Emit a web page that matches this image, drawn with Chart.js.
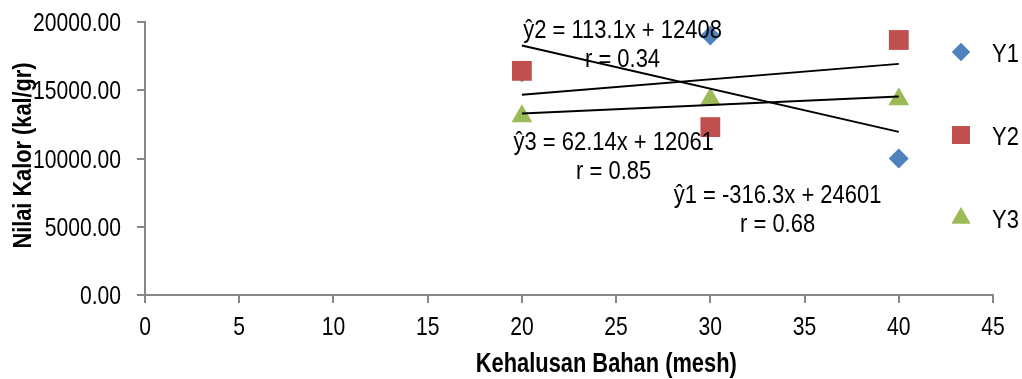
<!DOCTYPE html>
<html>
<head>
<meta charset="utf-8">
<title>Nilai Kalor vs Kehalusan Bahan</title>
<script src="https://cdn.jsdelivr.net/npm/chart.js@4"></script>
<style>
  html, body { margin: 0; padding: 0; background: #ffffff; }
  #wrap { width: 1022px; height: 379px; position: relative; }
</style>
</head>
<body>
<div id="wrap"><canvas id="chart"></canvas></div>
<script>
// Mesh sizes tested
const mesh = [20, 30, 40];

// Calorific value (kal/gr) per series
const y1Values = [16326, 19010, 10000];
const y2Values = [16420, 12301, 18682];
const y3Values = [13100, 14333, 14343];

const seriesNames = ['Y1', 'Y2', 'Y3'];
const seriesColors = ['#4F81BD', '#C0504D', '#9BBB59'];
const seriesShapes = ['rectRot', 'rect', 'triangle'];
const seriesRadius = [10, 14, 12];

// Linear trend coefficients (slope, intercept) and correlation for each series
const trendSlopes = [-316.3, 113.1, 62.14];
const trendIntercepts = [24601, 12408, 12061];
const trendR = ['0.68', '0.34', '0.85'];
const trendRange = [20, 40];

// Axis ticks
const xTicks = { min: 0, max: 45, step: 5 };
const yTicks = { min: 0, max: 20000, step: 5000 };

const xTitle = 'Kehalusan Bahan (mesh)';
const yTitle = 'Nilai Kalor (kal/gr)';

// Where each equation label sits, in data units (centre x, baseline y of the first line)
const labelAnchors = [
  { x: 33.57, y: 6740 },
  { x: 25.34, y: 18828 },
  { x: 24.87, y: 10623 }
];

const FONT = "'Liberation Sans', Arial, sans-serif";
const NARROW = 0.845;   // horizontal squeeze giving a narrow typeface look

// Draw a line of text squeezed along its own direction
function narrowText(ctx, text, x, y, opts) {
  ctx.save();
  ctx.translate(x, y);
  if (opts.rotate) ctx.rotate(opts.rotate);
  ctx.scale(opts.squeeze || NARROW, 1);
  ctx.font = (opts.bold ? 'bold ' : '') + opts.size + 'px ' + FONT;
  ctx.fillStyle = opts.color || '#000000';
  ctx.textAlign = opts.align || 'left';
  ctx.textBaseline = 'alphabetic';
  ctx.fillText(text, 0, 0);
  ctx.restore();
}

const values = [y1Values, y2Values, y3Values];

const pointSets = values.map((vals, i) => ({
  type: 'scatter',
  label: seriesNames[i],
  data: mesh.map((m, k) => ({ x: m, y: vals[k] })),
  pointStyle: seriesShapes[i],
  pointRadius: seriesRadius[i],
  pointHoverRadius: seriesRadius[i],
  backgroundColor: seriesColors[i],
  borderColor: seriesColors[i],
  borderWidth: 0,
  order: 3 - i + 1
}));

const trendSets = trendSlopes.map((a, i) => ({
  type: 'line',
  label: 'trend ' + seriesNames[i],
  data: trendRange.map(x => ({ x: x, y: a * x + trendIntercepts[i] })),
  borderColor: '#000000',
  borderWidth: 2,
  pointRadius: 0,
  fill: false,
  tension: 0,
  order: 0
}));

function fmtEq(i) {
  return 'ŷ' + (i + 1) + ' = ' + trendSlopes[i] + 'x + ' + trendIntercepts[i];
}

// Tick labels and axis titles in the narrow face
const axisTextPlugin = {
  id: 'axisText',
  afterDraw(chart) {
    const { ctx, scales, chartArea } = chart;
    const xs = scales.x, ys = scales.y;
    xs.ticks.forEach(t => {
      narrowText(ctx, String(t.value), xs.getPixelForValue(t.value), chartArea.bottom + 40,
        { size: 25, align: 'center' });
    });
    ys.ticks.forEach(t => {
      narrowText(ctx, Number(t.value).toFixed(2), chartArea.left - 24, ys.getPixelForValue(t.value) + 9,
        { size: 25, align: 'right' });
    });
    narrowText(ctx, xTitle, chartArea.left + (chartArea.right - chartArea.left) * 0.544, chartArea.bottom + 77,
      { size: 28, bold: true, align: 'center', squeeze: 0.78 });
    narrowText(ctx, yTitle, 31, (chartArea.top + chartArea.bottom) / 2 - 3,
      { size: 25, bold: true, align: 'center', rotate: -Math.PI / 2, squeeze: 0.87 });
  }
};

// Equation and r labels for each trend line
const equationPlugin = {
  id: 'equations',
  afterDatasetsDraw(chart) {
    const { ctx, scales } = chart;
    labelAnchors.forEach((p, i) => {
      const px = scales.x.getPixelForValue(p.x);
      const py = scales.y.getPixelForValue(p.y);
      narrowText(ctx, fmtEq(i), px, py, { size: 26, align: 'center' });
      narrowText(ctx, 'r = ' + trendR[i], px, py + 29, { size: 26, align: 'center' });
    });
  }
};

// Legend stacked down the right side, overlapping the plot edge
const legendPlugin = {
  id: 'sideLegend',
  afterDraw(chart) {
    const { ctx, chartArea } = chart;
    const mx = chartArea.right - 32;
    const rows = [52, 135, 218];
    rows.forEach((y, i) => {
      ctx.save();
      ctx.fillStyle = seriesColors[i];
      ctx.strokeStyle = seriesColors[i];
      Chart.helpers.drawPoint(ctx, {
        pointStyle: seriesShapes[i],
        radius: seriesRadius[i] * 0.9,
        borderWidth: 0,
        rotation: 0
      }, mx, y);
      ctx.fill();
      ctx.restore();
      narrowText(ctx, seriesNames[i], mx + 31, y + 10, { size: 26, align: 'left' });
    });
  }
};

new Chart(document.getElementById('chart'), {
  data: { datasets: [...pointSets, ...trendSets] },
  options: {
    responsive: true,
    maintainAspectRatio: false,
    animation: false,
    layout: { padding: { left: 0, right: 29, top: 22, bottom: 0 } },
    plugins: {
      legend: { display: false },
      tooltip: { enabled: false }
    },
    scales: {
      x: {
        type: 'linear',
        min: xTicks.min,
        max: xTicks.max,
        afterFit(scale) { scale.height = 84; },
        border: { color: '#868686', width: 2 },
        grid: { drawOnChartArea: false, drawTicks: true, tickLength: 8, color: '#868686', lineWidth: 2 },
        ticks: { stepSize: xTicks.step, display: false },
        title: { display: false }
      },
      y: {
        type: 'linear',
        min: yTicks.min,
        max: yTicks.max,
        afterFit(scale) { scale.width = 145; },
        border: { color: '#868686', width: 2 },
        grid: { drawOnChartArea: false, drawTicks: true, tickLength: 8, color: '#868686', lineWidth: 2 },
        ticks: { stepSize: yTicks.step, display: false },
        title: { display: false }
      }
    }
  },
  plugins: [equationPlugin, axisTextPlugin, legendPlugin]
});
</script>
</body>
</html>
